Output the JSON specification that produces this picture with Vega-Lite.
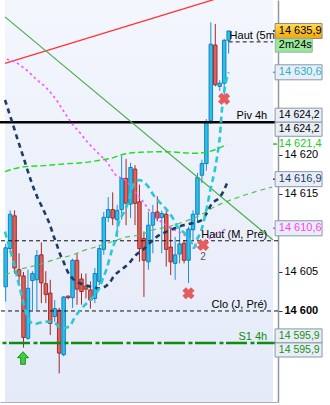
{
  "$schema": "https://vega.github.io/schema/vega-lite/v6.json",
  "width": 278,
  "height": 402,
  "autosize": {"type": "none"},
  "padding": {"left": 0, "top": 0, "right": 52, "bottom": 3},
  "background": "#ffffff",
  "config": {"view": {"stroke": null}, "font": "Liberation Sans"},
  "datasets": {
    "candles": [
      {"i":0,"o":14603.1,"h":14608.6,"l":14601.2,"c":14608.1},
      {"i":1,"o":14608.0,"h":14612.9,"l":14607.6,"c":14612.4},
      {"i":2,"o":14612.2,"h":14612.9,"l":14604.8,"c":14605.5},
      {"i":3,"o":14605.3,"h":14607.4,"l":14603.6,"c":14604.5},
      {"i":4,"o":14604.5,"h":14605.0,"l":14595.3,"c":14596.6},
      {"i":5,"o":14596.5,"h":14605.3,"l":14596.3,"c":14602.9},
      {"i":6,"o":14603.9,"h":14605.1,"l":14600.1,"c":14604.8},
      {"i":7,"o":14604.0,"h":14607.8,"l":14600.1,"c":14607.1},
      {"i":8,"o":14607.2,"h":14608.8,"l":14601.0,"c":14603.6},
      {"i":9,"o":14603.5,"h":14605.1,"l":14601.0,"c":14602.1},
      {"i":10,"o":14602.3,"h":14604.0,"l":14596.9,"c":14598.4},
      {"i":11,"o":14599.3,"h":14601.4,"l":14598.6,"c":14600.3},
      {"i":12,"o":14600.1,"h":14600.4,"l":14592.0,"c":14594.6},
      {"i":13,"o":14594.4,"h":14601.9,"l":14594.2,"c":14601.8},
      {"i":14,"o":14601.9,"h":14602.0,"l":14601.5,"c":14601.7},
      {"i":15,"o":14601.7,"h":14606.7,"l":14600.4,"c":14606.5},
      {"i":16,"o":14606.5,"h":14607.4,"l":14600.8,"c":14602.8},
      {"i":17,"o":14604.1,"h":14604.8,"l":14600.8,"c":14602.5},
      {"i":18,"o":14603.2,"h":14604.8,"l":14601.6,"c":14602.8},
      {"i":19,"o":14602.7,"h":14603.8,"l":14600.3,"c":14601.4},
      {"i":20,"o":14601.6,"h":14605.5,"l":14601.0,"c":14604.8},
      {"i":21,"o":14603.8,"h":14608.5,"l":14603.3,"c":14608.0},
      {"i":22,"o":14607.9,"h":14612.7,"l":14607.2,"c":14612.0},
      {"i":23,"o":14612.0,"h":14614.6,"l":14611.4,"c":14613.0},
      {"i":24,"o":14613.0,"h":14615.2,"l":14611.0,"c":14611.9},
      {"i":25,"o":14611.7,"h":14613.6,"l":14609.5,"c":14612.9},
      {"i":26,"o":14613.0,"h":14619.9,"l":14611.7,"c":14617.0},
      {"i":27,"o":14617.0,"h":14619.5,"l":14611.0,"c":14613.8},
      {"i":28,"o":14613.7,"h":14619.0,"l":14611.9,"c":14618.4},
      {"i":29,"o":14618.2,"h":14618.7,"l":14611.0,"c":14613.8},
      {"i":30,"o":14614.0,"h":14616.2,"l":14606.3,"c":14608.0},
      {"i":31,"o":14609.3,"h":14610.2,"l":14601.8,"c":14606.5},
      {"i":32,"o":14606.3,"h":14612.7,"l":14605.3,"c":14611.0},
      {"i":33,"o":14611.0,"h":14613.6,"l":14607.4,"c":14612.6},
      {"i":34,"o":14612.7,"h":14614.7,"l":14611.5,"c":14611.9},
      {"i":35,"o":14612.0,"h":14612.9,"l":14607.4,"c":14612.5},
      {"i":36,"o":14612.4,"h":14612.9,"l":14605.7,"c":14607.9},
      {"i":37,"o":14608.2,"h":14610.8,"l":14604.6,"c":14606.3},
      {"i":38,"o":14606.1,"h":14609.5,"l":14604.0,"c":14607.2},
      {"i":39,"o":14607.3,"h":14610.8,"l":14606.1,"c":14608.6},
      {"i":40,"o":14608.7,"h":14609.1,"l":14606.1,"c":14606.5},
      {"i":41,"o":14606.5,"h":14610.8,"l":14603.6,"c":14610.5},
      {"i":42,"o":14610.4,"h":14612.9,"l":14609.1,"c":14612.4},
      {"i":43,"o":14612.4,"h":14617.7,"l":14611.3,"c":14617.1},
      {"i":44,"o":14617.4,"h":14619.4,"l":14616.4,"c":14618.9},
      {"i":45,"o":14618.9,"h":14624.6,"l":14618.0,"c":14624.3},
      {"i":46,"o":14624.4,"h":14637.0,"l":14624.0,"c":14634.2},
      {"i":47,"o":14634.1,"h":14636.8,"l":14628.8,"c":14629.0},
      {"i":48,"o":14628.8,"h":14629.6,"l":14628.2,"c":14629.2},
      {"i":49,"o":14629.2,"h":14634.9,"l":14627.5,"c":14634.7},
      {"i":50,"o":14634.7,"h":14635.9,"l":14633.0,"c":14635.9}
    ],
    "pink": [
      {"i":0.22,"p":14632.27},{"i":2.01,"p":14631.96},{"i":4.17,"p":14631.12},{"i":7.05,"p":14629.62},
      {"i":9.21,"p":14628.55},{"i":11.37,"p":14627.05},{"i":12.82,"p":14625.77},{"i":14.27,"p":14624.49},
      {"i":16.43,"p":14622.99},{"i":18.59,"p":14621.5},{"i":20.75,"p":14620.22},{"i":22.91,"p":14618.94},
      {"i":24.34,"p":14617.65},{"i":27.24,"p":14616.54},{"i":28.32,"p":14615.73},{"i":30.83,"p":14614.01},
      {"i":32.12,"p":14612.95},{"i":36.45,"p":14610.81},{"i":40.06,"p":14609.74},{"i":42.93,"p":14608.24},
      {"i":45.24,"p":14609.1},{"i":47.84,"p":14610.1},{"i":49.5,"p":14610.5}
    ],
    "navy": [
      {"i":-0.15,"p":14627.05},{"i":1.3,"p":14624.49},{"i":2.72,"p":14621.92},{"i":4.17,"p":14619.36},
      {"i":5.62,"p":14616.79},{"i":7.05,"p":14614.65},{"i":8.13,"p":14613.37},{"i":9.08,"p":14612.18},
      {"i":9.94,"p":14611.03},{"i":10.66,"p":14609.74},{"i":11.37,"p":14608.68},{"i":12.11,"p":14607.4},
      {"i":12.97,"p":14606.32},{"i":13.9,"p":14605.04},{"i":14.98,"p":14604.19},{"i":17.08,"p":14603.46},
      {"i":19.02,"p":14603.12},{"i":21.03,"p":14602.91},{"i":23.2,"p":14603.55},{"i":24.28,"p":14604.49},
      {"i":26.07,"p":14605.35},{"i":27.67,"p":14606.12},{"i":28.97,"p":14607.05},{"i":30.7,"p":14607.82},
      {"i":33.94,"p":14609.53},{"i":36.1,"p":14610.17},{"i":37.9,"p":14610.6},{"i":40.06,"p":14611.03},
      {"i":41.85,"p":14611.24},{"i":44.01,"p":14611.67},{"i":46.33,"p":14613.81},{"i":48.12,"p":14614.65},
      {"i":49.94,"p":14616.79}
    ],
    "cyan": [
      {"i":-0.15,"p":14610.17},{"i":0.56,"p":14608.68},{"i":1.64,"p":14606.54},{"i":2.72,"p":14603.97},
      {"i":3.46,"p":14602.27},{"i":4.17,"p":14600.55},{"i":4.89,"p":14599.27},{"i":6.33,"p":14598.33},
      {"i":8.93,"p":14598.63},{"i":10.66,"p":14598.59},{"i":12.45,"p":14597.78},{"i":14.27,"p":14597.99},
      {"i":15.41,"p":14599.1},{"i":16.71,"p":14600.13},{"i":18.22,"p":14601.03},{"i":19.95,"p":14602.05},
      {"i":21.03,"p":14602.95},{"i":21.68,"p":14603.97},{"i":22.55,"p":14605.26},{"i":23.2,"p":14606.54},
      {"i":23.84,"p":14607.82},{"i":24.71,"p":14609.36},{"i":25.36,"p":14611.28},{"i":26.44,"p":14612.56},
      {"i":27.52,"p":14613.97},{"i":28.6,"p":14616.15},{"i":29.9,"p":14616.79},{"i":31.84,"p":14616.03},
      {"i":33.14,"p":14614.87},{"i":34.65,"p":14613.85},{"i":36.17,"p":14612.95},{"i":37.46,"p":14611.92},
      {"i":38.54,"p":14610.77},{"i":40.06,"p":14610.0},{"i":41.57,"p":14608.85},{"i":42.22,"p":14608.08},
      {"i":42.86,"p":14609.1},{"i":43.73,"p":14610.13},{"i":44.6,"p":14611.92},{"i":45.24,"p":14613.59},
      {"i":45.89,"p":14615.51},{"i":46.76,"p":14617.69},{"i":47.4,"p":14619.74},{"i":48.05,"p":14622.56},
      {"i":48.49,"p":14625.77},{"i":49.13,"p":14628.6},{"i":50.0,"p":14630.6}
    ],
    "lime": [
      {"i":-0.15,"p":14617.86},{"i":4.17,"p":14618.5},{"i":8.5,"p":14618.63},{"i":12.82,"p":14618.85},
      {"i":17.14,"p":14619.01},{"i":21.47,"p":14619.36},{"i":23.63,"p":14619.58},{"i":25.79,"p":14620.0},
      {"i":30.11,"p":14620.35},{"i":35.95,"p":14620.42},{"i":42.43,"p":14620.22},{"i":46.76,"p":14620.64},
      {"i":49.57,"p":14621.37}
    ],
    "lgreen": [
      {"i":-0.15,"p":14604.62},{"i":2.66,"p":14605.26},{"i":5.69,"p":14605.68},{"i":8.5,"p":14606.12},
      {"i":11.31,"p":14606.67},{"i":14.98,"p":14607.18},{"i":17.36,"p":14607.73},{"i":20.38,"p":14608.24},
      {"i":23.84,"p":14608.88},{"i":27.52,"p":14609.53},{"i":30.11,"p":14609.74},{"i":32.92,"p":14610.38},
      {"i":36.45,"p":14610.81},{"i":40.06,"p":14611.45},{"i":43.73,"p":14612.31},{"i":46.76,"p":14613.33},
      {"i":52.38,"p":14614.62},{"i":59.73,"p":14615.9}
    ],
    "red": [{"i":-0.15,"p":14631.75},{"i":59.94,"p":14642.24}],
    "trend": [{"i":-0.15,"p":14637.7},{"i":59.94,"p":14609.1}],
    "levels": [
      {"name":"Piv 4h","p":14624.2},
      {"name":"Haut (5m,","p":14634.5},
      {"name":"Haut (M, Pré)","p":14609.0},
      {"name":"Clo (J, Pré)","p":14600.0},
      {"name":"S1 4h","p":14595.9}
    ],
    "xs": [
      {"i":48.98,"p":14627.2,"n":""},
      {"i":44.27,"p":14608.46,"n":"2"},
      {"i":40.99,"p":14602.27,"n":""}
    ],
    "arrow": [{"i":3.89,"p":14593.97}],
    "labels": [
      {"t":"14 635,9","p":14635.9,"s":"price","slot":"mid"},
      {"t":"2m24s","p":14635.9,"s":"timer","slot":"timer"},
      {"t":"14 630,6","p":14630.6,"s":"cyan","slot":"mid"},
      {"t":"14 624,2","p":14624.2,"s":"piv","slot":"up"},
      {"t":"14 624,2","p":14624.2,"s":"piv","slot":"down"},
      {"t":"14 621,4","p":14621.4,"s":"lime","slot":"mid"},
      {"t":"14 616,9","p":14616.9,"s":"navy","slot":"mid"},
      {"t":"14 610,6","p":14610.6,"s":"pink","slot":"mid"},
      {"t":"14 595,9","p":14595.9,"s":"s1","slot":"up"},
      {"t":"14 595,9","p":14595.9,"s":"s1","slot":"down"}
    ]
  },
  "layer": [
    {
      "data": {"values": [{}]},
      "mark": {"type": "rect", "fill": {"gradient": "linear", "x1": 0, "y1": 0, "x2": 0, "y2": 1, "stops": [{"offset": 0, "color": "#f3f6fd"}, {"offset": 1, "color": "#e4eaf8"}]}},
      "encoding": {
        "x": {"datum": -0.15, "type": "quantitative", "title": null},
        "x2": {"datum": 59.94},
        "y": {"datum": 14639.87, "type": "quantitative", "title": null},
        "y2": {"datum": 14588.33}
      }
    },
    {
      "data": {"name": "candles"},
      "mark": {"type": "rule", "strokeWidth": 1, "clip": true},
      "encoding": {
        "x": {"field": "i", "type": "quantitative", "title": null,
          "scale": {"domain": [-0.15, 59.94], "nice": false, "zero": false},
          "axis": {"orient": "bottom", "title": null, "labels": false, "ticks": false, "grid": false, "domainColor": "#a7b0c0", "domainWidth": 1}},
        "y": {"field": "l", "type": "quantitative", "title": null,
          "scale": {"domain": [14588.33, 14639.87], "nice": false, "zero": false},
          "axis": {"orient": "right", "title": null, "grid": false,
            "values": [14595, 14600, 14605, 14610, 14615, 14620, 14625, 14630, 14635, 14640],
            "labelExpr": "indexof([14595, 14610, 14625, 14630, 14635], datum.value) >= 0 ? '' : replace(format(datum.value, ','), ',', ' ')",
            "labelFontWeight": {"condition": {"test": "datum.value == 14600", "value": "bold"}, "value": "normal"},
            "labelFont": "Liberation Sans", "labelFontSize": 11, "labelColor": "#000000",
            "tickSize": 4, "tickColor": "#333333", "labelPadding": 2, "labelOverlap": false, "labelFlush": false,
            "domainColor": "#8d99aa", "domainWidth": 1.5}},
        "y2": {"field": "h"},
        "color": {"condition": {"test": "datum.c >= datum.o", "value": "#1c8fd6"}, "value": "#a32828"}
      }
    },
    {
      "data": {"name": "candles"},
      "mark": {"type": "bar", "orient": "vertical", "width": 3.5, "strokeWidth": 0.9, "clip": true},
      "encoding": {
        "x": {"field": "i", "type": "quantitative", "title": null},
        "y": {"field": "o", "type": "quantitative", "title": null},
        "y2": {"field": "c"},
        "fill": {"condition": {"test": "datum.c >= datum.o", "value": "#25c2ec"}, "value": "#e0615a"},
        "stroke": {"condition": {"test": "datum.c >= datum.o", "value": "#1473b8"}, "value": "#982424"}
      }
    },
    {
      "data": {"name": "levels"},
      "transform": [{"filter": {"field": "name", "oneOf": ["Haut (M, Pré)", "Clo (J, Pré)"]}}],
      "mark": {"type": "rule", "color": "#111111", "strokeWidth": 1, "strokeDash": [4, 3]},
      "encoding": {"y": {"field": "p", "type": "quantitative", "title": null}}
    },
    {
      "data": {"name": "levels"},
      "transform": [{"filter": "datum.name == 'Haut (5m,'"}],
      "mark": {"type": "rule", "color": "#111111", "strokeWidth": 1, "strokeDash": [4, 3]},
      "encoding": {
        "x": {"datum": 50, "type": "quantitative", "title": null},
        "x2": {"datum": 59.94},
        "y": {"field": "p", "type": "quantitative", "title": null}
      }
    },
    {
      "data": {"name": "levels"},
      "transform": [{"filter": "datum.name == 'S1 4h'"}],
      "mark": {"type": "rule", "color": "#0d8c0d", "strokeWidth": 2.5, "strokeDash": [21, 2.5, 4, 3.5]},
      "encoding": {"y": {"field": "p", "type": "quantitative", "title": null}}
    },
    {
      "data": {"name": "levels"},
      "transform": [{"filter": "datum.name == 'Piv 4h'"}],
      "mark": {"type": "rule", "color": "#050505", "strokeWidth": 2.6},
      "encoding": {"y": {"field": "p", "type": "quantitative", "title": null}}
    },
    {
      "data": {"name": "lgreen"},
      "mark": {"type": "line", "interpolate": "monotone", "stroke": "#5dbf5d", "strokeWidth": 1.2, "strokeDash": [5, 4], "clip": true},
      "encoding": {"x": {"field": "i", "type": "quantitative", "title": null}, "y": {"field": "p", "type": "quantitative", "title": null}}
    },
    {
      "data": {"name": "lime"},
      "mark": {"type": "line", "interpolate": "monotone", "stroke": "#22dd22", "strokeWidth": 1.4, "strokeDash": [6, 3], "clip": true},
      "encoding": {"x": {"field": "i", "type": "quantitative", "title": null}, "y": {"field": "p", "type": "quantitative", "title": null}}
    },
    {
      "data": {"name": "red"},
      "mark": {"type": "line", "stroke": "#ff3333", "strokeWidth": 1.3, "clip": true},
      "encoding": {"x": {"field": "i", "type": "quantitative", "title": null}, "y": {"field": "p", "type": "quantitative", "title": null}}
    },
    {
      "data": {"name": "trend"},
      "mark": {"type": "line", "stroke": "#45ad45", "strokeWidth": 1.1, "clip": true},
      "encoding": {"x": {"field": "i", "type": "quantitative", "title": null}, "y": {"field": "p", "type": "quantitative", "title": null}}
    },
    {
      "data": {"name": "pink"},
      "mark": {"type": "line", "interpolate": "monotone", "stroke": "#ff4dff", "strokeWidth": 1.6, "strokeDash": [2.5, 3], "clip": true},
      "encoding": {"x": {"field": "i", "type": "quantitative", "title": null}, "y": {"field": "p", "type": "quantitative", "title": null}}
    },
    {
      "data": {"name": "navy"},
      "mark": {"type": "line", "interpolate": "monotone", "stroke": "#1b3d66", "strokeWidth": 2.6, "strokeDash": [5, 4], "clip": true},
      "encoding": {"x": {"field": "i", "type": "quantitative", "title": null}, "y": {"field": "p", "type": "quantitative", "title": null}}
    },
    {
      "data": {"name": "cyan"},
      "mark": {"type": "line", "interpolate": "monotone", "stroke": "#27cad4", "strokeWidth": 2.6, "strokeDash": [6, 4], "clip": true},
      "encoding": {"x": {"field": "i", "type": "quantitative", "title": null}, "y": {"field": "p", "type": "quantitative", "title": null}}
    },
    {
      "data": {"name": "levels"},
      "transform": [{"filter": "datum.name != 'Haut (5m,'"}],
      "mark": {"type": "text", "align": "right", "baseline": "bottom", "dy": -1, "fontSize": 11},
      "encoding": {
        "x": {"datum": 58.64, "type": "quantitative", "title": null},
        "y": {"field": "p", "type": "quantitative", "title": null},
        "text": {"field": "name"},
        "color": {"condition": {"test": "datum.name == 'S1 4h'", "value": "#0d8c0d"}, "value": "#000000"}
      }
    },
    {
      "data": {"name": "levels"},
      "transform": [{"filter": "datum.name == 'Haut (5m,'"}],
      "mark": {"type": "text", "align": "left", "baseline": "bottom", "dy": -1, "fontSize": 11, "color": "#000000"},
      "encoding": {
        "x": {"datum": 50.21, "type": "quantitative", "title": null},
        "y": {"field": "p", "type": "quantitative", "title": null},
        "text": {"field": "name"}
      }
    },
    {
      "data": {"name": "arrow"},
      "mark": {"type": "point", "shape": "M0,-1.15L1,-0.05L0.42,-0.05L0.42,1.15L-0.42,1.15L-0.42,-0.05L-1,-0.05Z", "size": 121, "filled": true, "fill": "#3fcf3f", "stroke": "#1f8f1f", "strokeWidth": 1, "opacity": 1},
      "encoding": {"x": {"field": "i", "type": "quantitative", "title": null}, "y": {"field": "p", "type": "quantitative", "title": null}}
    },
    {
      "data": {"name": "xs"},
      "mark": {"type": "point", "shape": "cross", "angle": 45, "size": 150, "filled": true, "fill": "#e65c5c", "strokeWidth": 0, "opacity": 1},
      "encoding": {"x": {"field": "i", "type": "quantitative", "title": null}, "y": {"field": "p", "type": "quantitative", "title": null}}
    },
    {
      "data": {"name": "xs"},
      "mark": {"type": "text", "dy": 12, "fontSize": 10, "color": "#555555"},
      "encoding": {"x": {"field": "i", "type": "quantitative", "title": null}, "y": {"field": "p", "type": "quantitative", "title": null}, "text": {"field": "n"}}
    },
    {
      "data": {"name": "labels"},
      "transform": [{"filter": "datum.slot != 'timer' && datum.slot != 'down'"}],
      "mark": {"type": "rule", "strokeWidth": 1.5},
      "encoding": {
        "x": {"datum": 59.94, "type": "quantitative", "title": null},
        "x2": {"datum": 60.85},
        "y": {"field": "p", "type": "quantitative", "title": null},
        "color": {"field": "s", "type": "nominal", "legend": null,
          "scale": {"domain": ["price", "timer", "cyan", "piv", "lime", "navy", "pink", "s1"], "range": ["#000000", "#000000", "#1fb5c5", "#000000", "#22cc22", "#1c3c64", "#ff40ff", "#1a8f1a"]}}
      }
    },
    {
      "data": {"name": "labels"},
      "transform": [{"filter": "datum.s == 'price'"}],
      "mark": {"type": "point", "shape": "M-1,-0.32L1,-0.32L1,0.32L-1,0.32Z", "size": 2209, "filled": true, "opacity": 1, "stroke": "#8a8a8a", "strokeWidth": 1,
        "fill": {"gradient": "linear", "x1": 0, "y1": 0, "x2": 0, "y2": 1, "stops": [{"offset": 0, "color": "#ffdc55"}, {"offset": 1, "color": "#f2a60c"}]}},
      "encoding": {"x": {"datum": 65.67, "type": "quantitative", "title": null}, "y": {"field": "p", "type": "quantitative", "title": null}}
    },
    {
      "data": {"name": "labels"},
      "transform": [{"filter": "datum.s == 'timer'"}],
      "mark": {"type": "point", "shape": "M-1,-0.36L1,-0.36L1,0.36L-1,0.36Z", "size": 1369, "filled": true, "opacity": 1, "fill": "#9ae89a", "stroke": "#8fb89f", "strokeWidth": 1, "yOffset": 14.5},
      "encoding": {"x": {"datum": 64.59, "type": "quantitative", "title": null}, "y": {"field": "p", "type": "quantitative", "title": null}}
    },
    {
      "data": {"name": "labels"},
      "transform": [{"filter": "datum.slot == 'mid' && datum.s != 'price' && datum.s != 'lime'"}],
      "mark": {"type": "point", "shape": "M-1,-0.32L1,-0.32L1,0.32L-1,0.32Z", "size": 2209, "filled": true, "opacity": 1, "fill": "#e9eef6", "stroke": "#8797aa", "strokeWidth": 1},
      "encoding": {"x": {"datum": 65.67, "type": "quantitative", "title": null}, "y": {"field": "p", "type": "quantitative", "title": null}}
    },
    {
      "data": {"name": "labels"},
      "transform": [{"filter": "datum.slot == 'up'"}],
      "mark": {"type": "point", "shape": "M-1,-0.3L1,-0.3L1,0.3L-1,0.3Z", "size": 2209, "filled": true, "opacity": 1, "fill": "#e9eef6", "stroke": "#8797aa", "strokeWidth": 1, "yOffset": -7},
      "encoding": {"x": {"datum": 65.67, "type": "quantitative", "title": null}, "y": {"field": "p", "type": "quantitative", "title": null}}
    },
    {
      "data": {"name": "labels"},
      "transform": [{"filter": "datum.slot == 'down'"}],
      "mark": {"type": "point", "shape": "M-1,-0.3L1,-0.3L1,0.3L-1,0.3Z", "size": 2209, "filled": true, "opacity": 1, "fill": "#e9eef6", "stroke": "#8797aa", "strokeWidth": 1, "yOffset": 7},
      "encoding": {"x": {"datum": 65.67, "type": "quantitative", "title": null}, "y": {"field": "p", "type": "quantitative", "title": null}}
    },
    {
      "data": {"name": "labels"},
      "transform": [{"filter": "datum.slot == 'mid'"}],
      "mark": {"type": "text", "align": "left", "baseline": "middle", "fontSize": 11},
      "encoding": {
        "x": {"datum": 61.24, "type": "quantitative", "title": null},
        "y": {"field": "p", "type": "quantitative", "title": null},
        "text": {"field": "t"},
        "color": {"field": "s", "type": "nominal", "legend": null}
      }
    },
    {
      "data": {"name": "labels"},
      "transform": [{"filter": "datum.slot == 'timer'"}],
      "mark": {"type": "text", "align": "left", "baseline": "middle", "fontSize": 11, "yOffset": 14.5},
      "encoding": {
        "x": {"datum": 61.24, "type": "quantitative", "title": null},
        "y": {"field": "p", "type": "quantitative", "title": null},
        "text": {"field": "t"},
        "color": {"field": "s", "type": "nominal", "legend": null}
      }
    },
    {
      "data": {"name": "labels"},
      "transform": [{"filter": "datum.slot == 'up'"}],
      "mark": {"type": "text", "align": "left", "baseline": "middle", "fontSize": 10.5, "yOffset": -7},
      "encoding": {
        "x": {"datum": 61.24, "type": "quantitative", "title": null},
        "y": {"field": "p", "type": "quantitative", "title": null},
        "text": {"field": "t"},
        "color": {"field": "s", "type": "nominal", "legend": null}
      }
    },
    {
      "data": {"name": "labels"},
      "transform": [{"filter": "datum.slot == 'down'"}],
      "mark": {"type": "text", "align": "left", "baseline": "middle", "fontSize": 10.5, "yOffset": 7},
      "encoding": {
        "x": {"datum": 61.24, "type": "quantitative", "title": null},
        "y": {"field": "p", "type": "quantitative", "title": null},
        "text": {"field": "t"},
        "color": {"field": "s", "type": "nominal", "legend": null}
      }
    }
  ]
}
